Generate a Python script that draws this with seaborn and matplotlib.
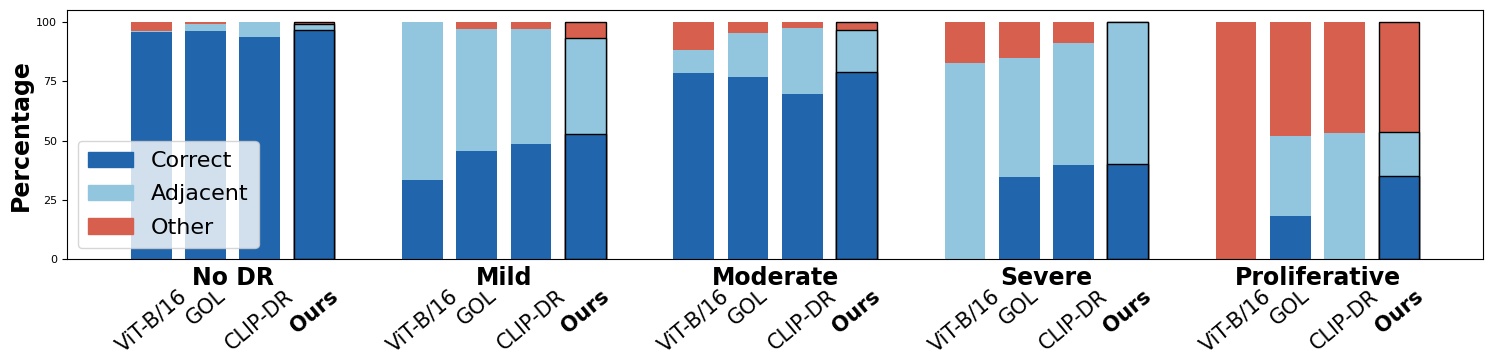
import pandas as pd
import matplotlib
matplotlib.use("Agg")
import matplotlib.pyplot as plt
import matplotlib.transforms as mtransforms
from matplotlib.patches import Patch
import seaborn as sns

# grades and methods
grades = ["No DR", "Mild", "Moderate", "Severe", "Proliferative"]
methods = ["ViT-B/16", "GOL", "CLIP-DR", "Ours"]

# percentages per grade
vit_correct = [95.9, 33.3, 78.4, 0.0, 0.0]
vit_adjacent = [0.3, 66.7, 9.9, 82.7, 0.0]
vit_other = [3.8, 0.0, 11.7, 17.3, 100.0]

gol_correct = [96.2, 45.8, 76.8, 34.7, 18.2]
gol_adjacent = [3.0, 51.2, 18.7, 50.1, 33.9]
gol_other = [0.8, 3.0, 4.5, 15.2, 47.9]

clip_correct = [93.7, 48.6, 69.7, 39.6, 0.0]
clip_adjacent = [6.3, 48.4, 27.8, 51.7, 53.4]
clip_other = [0.0, 3.0, 2.5, 8.7, 46.6]

ours_correct = [96.6, 52.8, 78.9, 40.0, 35.2]
ours_adjacent = [2.7, 40.2, 17.6, 60.0, 18.3]
ours_other = [0.7, 7.0, 3.5, 0.0, 46.5]

c_correct = "#2166ac"
c_adjacent = "#92c5de"
c_other = "#d6604d"

# long table
rows = []
for m, cor, adj, oth in zip(
    methods,
    [vit_correct, gol_correct, clip_correct, ours_correct],
    [vit_adjacent, gol_adjacent, clip_adjacent, ours_adjacent],
    [vit_other, gol_other, clip_other, ours_other],
):
    for g, a, b, c in zip(grades, cor, adj, oth):
        rows.append({"grade": g, "method": m, "correct": a, "adjacent": b, "other": c})
df = pd.DataFrame(rows)
df["lvl_correct"] = df["correct"]
df["lvl_adjacent"] = df["correct"] + df["adjacent"]
df["lvl_other"] = df["correct"] + df["adjacent"] + df["other"]

fig = plt.figure(figsize=(14.95, 3.62), dpi=100)
ax = fig.add_axes([0.0446, 0.2837, 0.9477, 0.6887])

# stacked bars drawn as layered cumulative bars
for col, color in [("lvl_other", c_other), ("lvl_adjacent", c_adjacent), ("lvl_correct", c_correct)]:
    sns.barplot(data=df, x="grade", y=col, hue="method", order=grades, hue_order=methods,
                palette={m: color for m in methods}, saturation=1, width=0.8, gap=0.25,
                errorbar=None, legend=False, linewidth=0, ax=ax)

# black outline for "Ours"
for i, cont in enumerate(ax.containers):
    if i % 4 == 3:
        for p in cont.patches:
            p.set_edgecolor("black")
            p.set_linewidth(1.0)

# method tick labels under every bar
centers = []
for cont in ax.containers[:4]:
    for p in cont.patches:
        centers.append(p.get_x() + p.get_width() / 2)
centers = sorted(centers)
ax.set_xticks(centers)
ax.set_xticklabels(methods * len(grades), rotation=40, ha="center", fontsize=15)
for t in ax.get_xticklabels():
    if t.get_text() == "Ours":
        t.set_fontweight("bold")
ax.tick_params(axis="x", length=0, pad=19)

# grade names
trans = mtransforms.blended_transform_factory(ax.transData, ax.transAxes)
for i, g in enumerate(grades):
    ax.text(i, -0.028, g, transform=trans, ha="center", va="top",
            fontsize=17, fontweight="bold")

ax.set_xlim(-0.612, 4.612)
ax.set_ylim(0, 105)
ax.set_yticks([0, 25, 50, 75, 100])
ax.tick_params(axis="y", labelsize=8)
ax.set_xlabel("")
ax.set_ylabel("Percentage", fontsize=17, fontweight="bold", labelpad=2.5)

handles = [Patch(color=c_correct, label="Correct"),
           Patch(color=c_adjacent, label="Adjacent"),
           Patch(color=c_other, label="Other")]
ax.legend(handles=handles, loc="lower left", fontsize=16, borderpad=0.47, labelspacing=0.6)

fig.savefig("out.png", dpi=100)
